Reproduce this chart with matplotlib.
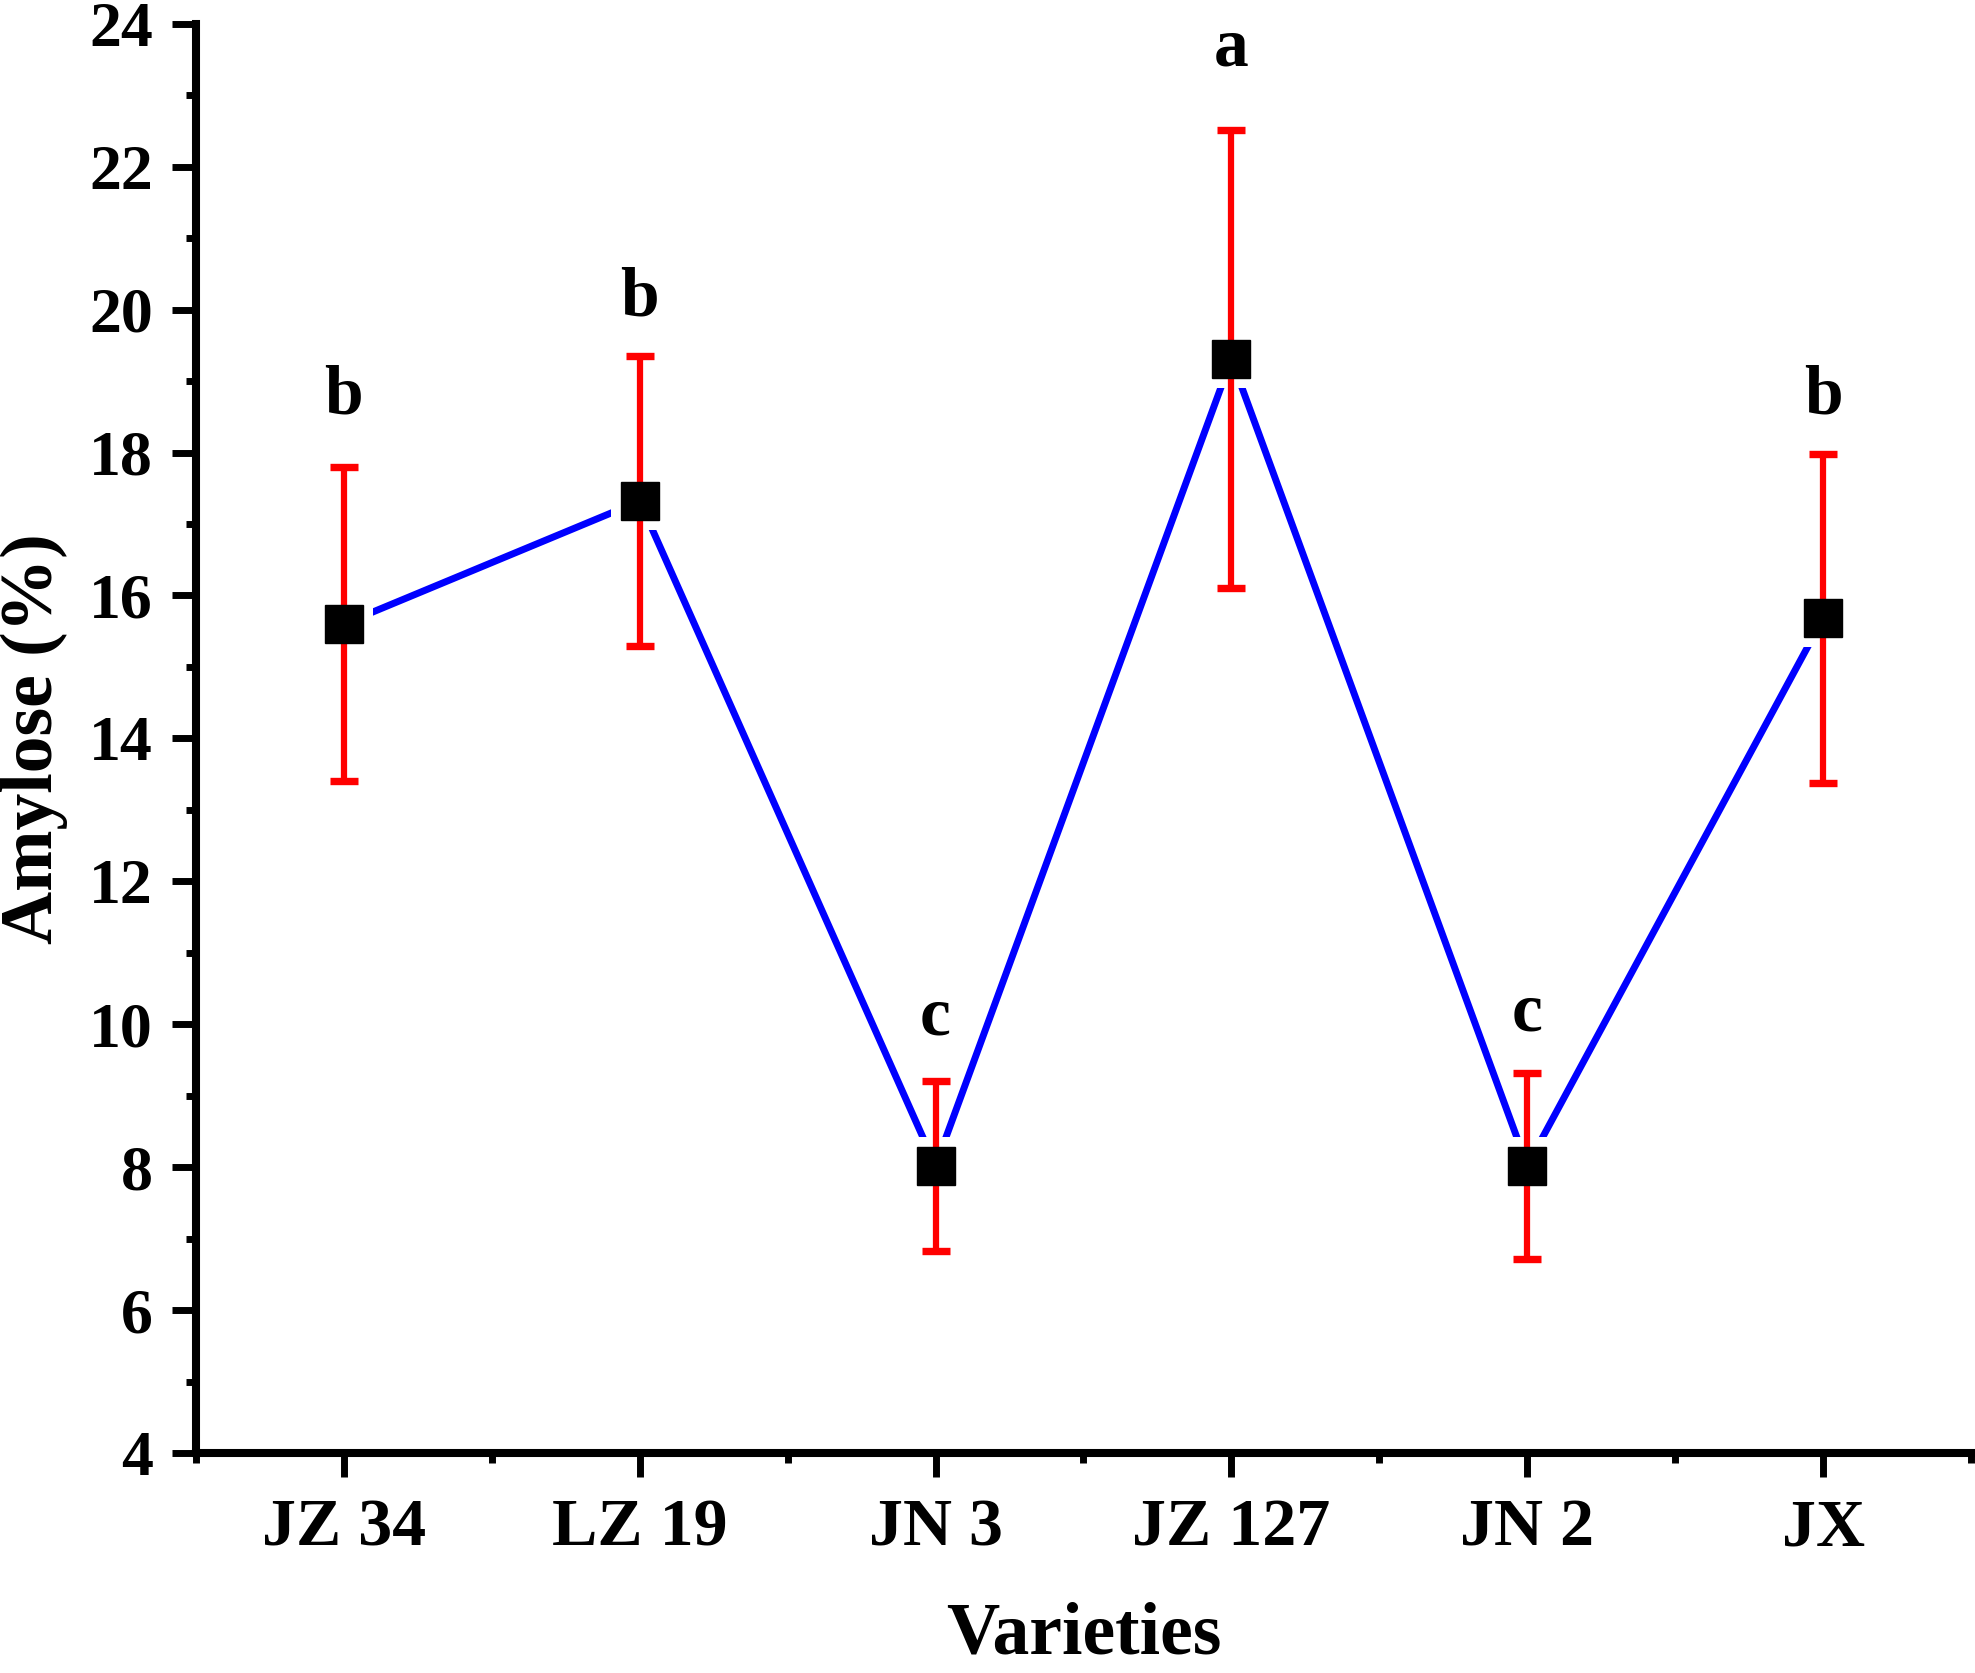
import matplotlib
matplotlib.use("Agg")
import matplotlib.pyplot as plt
from matplotlib.ticker import MultipleLocator

# ---- data ----
varieties = ["JZ 34", "LZ 19", "JN 3", "JZ 127", "JN 2", "JX"]
amylose = [15.6, 17.32, 8.02, 19.31, 8.02, 15.68]
amylose_err = [2.2, 2.03, 1.19, 3.2, 1.3, 2.3]
letters = ["b", "b", "c", "a", "c", "b"]
letter_y = [18.78, 20.15, 10.1, 23.66, 10.15, 18.78]

plt.rcParams['font.family'] = ['Liberation Serif', 'DejaVu Serif']
plt.rcParams['font.weight'] = 'bold'

fig = plt.figure(figsize=(19.75, 16.73), dpi=100)
ax = fig.add_axes([0.0992, 0.1315, 0.8988, 0.8543])

x = list(range(1, len(varieties) + 1))

# connecting line
ax.plot(x, amylose, color='#0000FF', lw=5.0, zorder=1, solid_capstyle='butt')
# white gap around markers
ax.plot(x, amylose, ls='none', marker='s', ms=42, mfc='white', mec='white',
        mew=0, zorder=2)
# error bars
ax.errorbar(x, amylose, yerr=amylose_err, fmt='none', ecolor='#FF0000',
            elinewidth=4.5, capsize=10.4, capthick=5.3, zorder=3)
# markers
ax.plot(x, amylose, ls='none', marker='s', ms=28, mfc='black', mec='black',
        mew=1.0, zorder=4)

for xi, t, ly in zip(x, letters, letter_y):
    ax.text(xi, ly, t, ha='center', va='center', fontsize=50,
            fontweight='bold', zorder=5)

ax.set_xlim(0.5, 6.5)
ax.set_ylim(4, 24)
ax.set_xticks(x)
ax.set_xticklabels(varieties)
ax.xaxis.set_minor_locator(MultipleLocator(1.0, offset=0.5))
ax.yaxis.set_major_locator(MultipleLocator(2))
ax.yaxis.set_minor_locator(MultipleLocator(1))

for s in ['top', 'right']:
    ax.spines[s].set_visible(False)
for s in ['left', 'bottom']:
    ax.spines[s].set_linewidth(5.8)

ax.tick_params(axis='both', which='major', direction='out', length=17,
               width=5.0)
ax.tick_params(axis='both', which='minor', direction='out', length=7.5,
               width=5.0)
ax.tick_params(axis='y', which='major', labelsize=46, pad=14)
ax.tick_params(axis='x', which='major', labelsize=49, pad=16)
for lab in ax.get_xticklabels() + ax.get_yticklabels():
    lab.set_fontweight('bold')

ax.set_ylabel('Amylose (%)', fontsize=53, fontweight='bold', va='top')
ax.yaxis.set_label_coords(-0.1105, 0.5)
ax.set_xlabel('Varieties', fontsize=53, fontweight='bold', va='bottom')
ax.xaxis.set_label_coords(0.5, -0.1515)

fig.savefig('out.png', dpi=100)
